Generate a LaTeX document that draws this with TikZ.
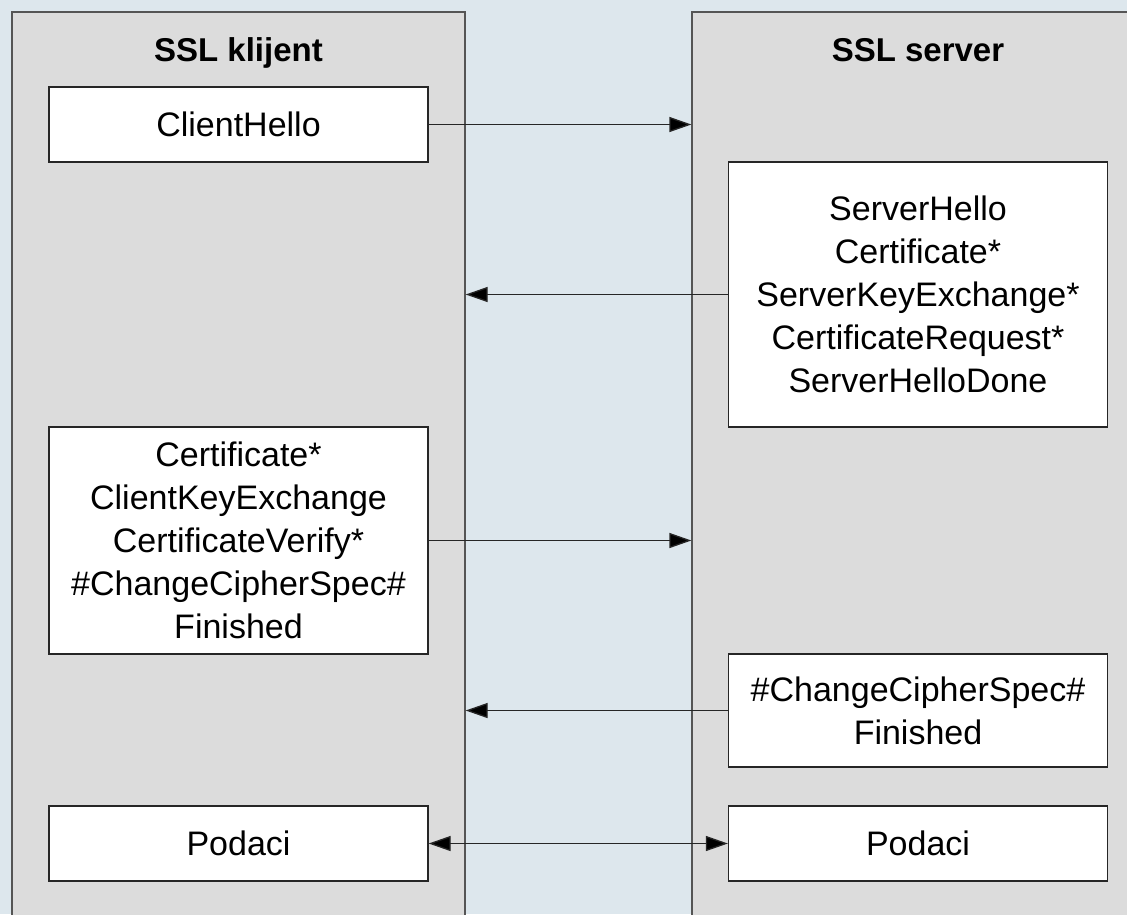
\documentclass[tikz,border=0pt]{standalone}
\usepackage{fontspec}
\setmainfont{Liberation Sans}
\usetikzlibrary{arrows.meta}
\definecolor{bgblue}{HTML}{DDE7ED}
\definecolor{panelgray}{HTML}{DCDCDC}
\definecolor{edgegray}{HTML}{555555}
\begin{document}
\begin{tikzpicture}[x=1pt,y=-1pt,
  panel/.style={draw=edgegray, fill=panelgray, line width=1.3pt, minimum width=453pt, minimum height=918pt, inner sep=0pt},
  ptitle/.style={font=\fontsize{33}{40}\selectfont\bfseries, inner sep=0pt, anchor=base},
  msg/.style={draw=black!85, fill=white, line width=1.3pt, align=center, inner sep=0pt, minimum width=379pt, font=\fontsize{34}{43}\selectfont},
  tip/.style={Triangle[length=22pt,width=15pt,fill=black,line width=0pt]},
  arr/.style={line width=1.3pt, draw=black!85, -{Triangle[length=22pt,width=15pt,fill=black]}},
  darr/.style={line width=1.3pt, draw=black!85, {Triangle[length=22pt,width=15pt,fill=black]}-{Triangle[length=22pt,width=15pt,fill=black]}}
]
\useasboundingbox (0,0) rectangle (1127,914);
\fill[bgblue] (0,0) rectangle (1127,914);
\clip (0,0) rectangle (1127,914);
\node[panel] (lp) at (238.5,471) {};
\node[panel] (rp) at (918.5,471) {};
\node[ptitle] (lt) at (238.5,61) {SSL klijent};
\node[ptitle] (rt) at (918,61) {SSL server};
\node[msg, minimum height=75pt] (chello) at (238.5,124.5) {ClientHello};
\node[msg, minimum height=265pt] (s1) at (918,294.5) {ServerHello\\Certificate*\\ServerKeyExchange*\\CertificateRequest*\\ServerHelloDone};
\node[msg, minimum height=227pt] (c2) at (238.5,540.5) {Certificate*\\ClientKeyExchange\\CertificateVerify*\\\#ChangeCipherSpec\#\\Finished};
\node[msg, minimum height=113pt] (s2) at (918,710.5) {\#ChangeCipherSpec\#\\Finished};
\node[msg, minimum height=75pt] (pl) at (238.5,843.5) {Podaci};
\node[msg, minimum height=75pt] (pr) at (918,843.5) {Podaci};
\draw[arr] (chello.east) -- (chello.east -| rp.west);
\draw[arr] (s1.west) -- (s1.west -| lp.east);
\draw[arr] (c2.east) -- (c2.east -| rp.west);
\draw[arr] (s2.west) -- (s2.west -| lp.east);
\draw[darr] (pl.east) -- (pr.west);
\end{tikzpicture}
\end{document}
